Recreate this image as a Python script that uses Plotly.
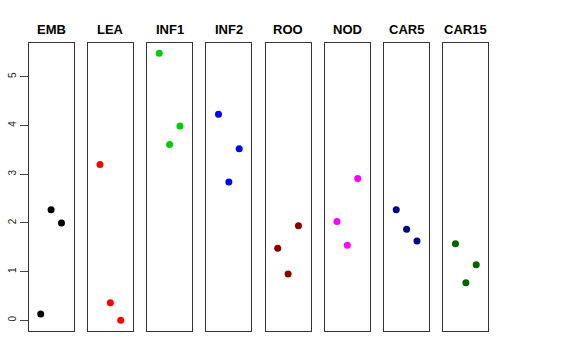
import plotly.graph_objects as go

panels = ["EMB", "LEA", "INF1", "INF2", "ROO", "NOD", "CAR5", "CAR15"]
colors = ["#000000", "#FF0000", "#00CD00", "#0000FF", "#8B0000", "#FF00FF", "#00008B", "#006400"]
positions = [1, 2, 3]
values = {
    "EMB":   [0.13, 2.27, 2.00],
    "LEA":   [3.20, 0.36, 0.00],
    "INF1":  [5.48, 3.61, 3.99],
    "INF2":  [4.23, 2.84, 3.52],
    "ROO":   [1.48, 0.95, 1.94],
    "NOD":   [2.03, 1.54, 2.91],
    "CAR5":  [2.27, 1.87, 1.63],
    "CAR15": [1.57, 0.77, 1.14],
}
y_ticks = [0, 1, 2, 3, 4, 5]

W, H = 576, 360
left0, step, pw = 28.7, 59.25, 44.8
top_px, bot_px = 42.7, 331.0

fig = go.Figure()
layout = dict(
    width=W, height=H, margin=dict(l=0, r=0, t=0, b=0, autoexpand=False),
    paper_bgcolor="white", plot_bgcolor="white", showlegend=False,
    font=dict(family="Liberation Sans, Arial, sans-serif", color="black"),
)
annotations = []
for i, name in enumerate(panels):
    n = "" if i == 0 else str(i + 1)
    x0 = (left0 + i * step) / W
    x1 = (left0 + i * step + pw) / W
    fig.add_trace(go.Scatter(
        x=positions, y=values[name], mode="markers",
        marker=dict(color=colors[i], size=7),
        xaxis="x" + n, yaxis="y" + n, hoverinfo="skip",
    ))
    layout["xaxis" + n] = dict(
        domain=[x0, x1], range=[-0.16, 4.16], showticklabels=False, ticks="",
        showgrid=False, zeroline=False, showline=True, mirror=True,
        linecolor="#333333", linewidth=1, anchor="y" + n, fixedrange=True,
        automargin=False,
    )
    ya = dict(
        domain=[(H - bot_px) / H, (H - top_px) / H], range=[-0.219, 5.699],
        showgrid=False, zeroline=False, showline=True, mirror=True,
        linecolor="#333333", linewidth=1, anchor="x" + n, fixedrange=True,
        automargin=False,
    )
    if i == 0:
        ya.update(tickvals=y_ticks, ticktext=[str(t) for t in y_ticks],
                  ticks="outside", ticklen=8, tickcolor="#444444", tickwidth=1,
                  tickangle=-90, tickfont=dict(size=10, color="#222222"))
    else:
        ya.update(showticklabels=False, ticks="")
    layout["yaxis" + n] = ya
    annotations.append(dict(
        x=(x0 + x1) / 2, y=(H - 29) / H, xref="paper", yref="paper",
        text="<b>" + name + "</b>", showarrow=False,
        font=dict(size=13, color="black"), xanchor="center", yanchor="middle",
    ))
layout["annotations"] = annotations
fig.update_layout(**layout)
fig.write_html("out.html", config={"displayModeBar": False},
               post_script="document.body.style.margin='0';document.body.style.overflow='hidden';")
